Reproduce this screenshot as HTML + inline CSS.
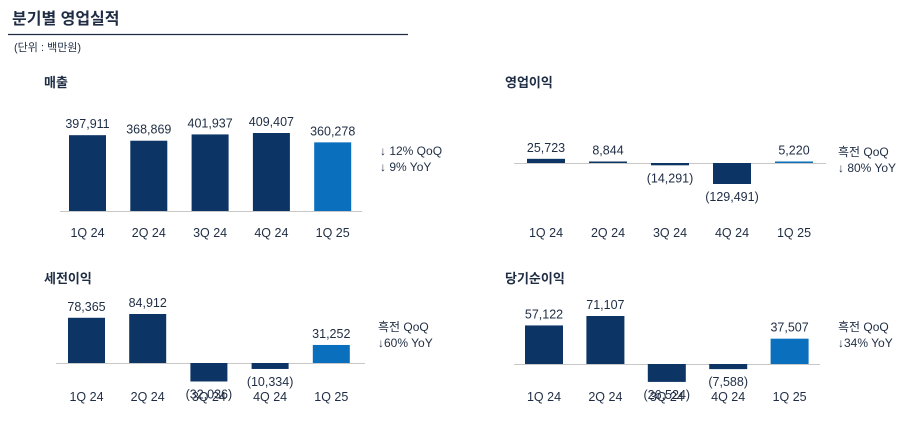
<!DOCTYPE html>
<html><head><meta charset="utf-8">
<style>
body{margin:0;width:913px;height:433px;background:#fff;overflow:hidden;font-family:"Liberation Sans","Noto Sans CJK KR",sans-serif;}
svg{display:block}
text{font-family:"Liberation Sans","Noto Sans CJK KR",sans-serif;fill:#1f2d44}
</style></head>
<body>
<svg id="c" width="913" height="433">
<text x="12" y="24" font-size="16" font-weight="bold">분기별 영업실적</text>
<line x1="8" y1="34.5" x2="408" y2="34.5" stroke="#1f2d44" stroke-width="1.2"/>
<text x="14" y="51" font-size="11" fill="#444">(단위 : 백만원)</text>
</svg>
<script>
const categories=["1Q 24","2Q 24","3Q 24","4Q 24","1Q 25"];
const revenue=[397911,368869,401937,409407,360278];
const operatingProfit=[25723,8844,-14291,-129491,5220];
const pretaxProfit=[78365,84912,-32036,-10334,31252];
const netProfit=[57122,71107,-26524,-7588,37507];
const notes=[["↓ 12% QoQ","↓ 9% YoY"],["흑전 QoQ","↓ 80% YoY"],["흑전 QoQ","↓60% YoY"],["흑전 QoQ","↓34% YoY"]];
const titles=["매출","영업이익","세전이익","당기순이익"];
const svg=document.getElementById('c');
const NS='http://www.w3.org/2000/svg';
function mk(tag,attrs,txt){const e=document.createElementNS(NS,tag);for(const k in attrs)e.setAttribute(k,attrs[k]);if(txt!==undefined)e.textContent=txt;svg.appendChild(e);return e;}
function fmt(v){const s=Math.abs(v).toLocaleString('en-US');return v<0?'('+s+')':s;}
const panels=[
 {data:revenue,x0:69,step:61.3,bw:37,base:211,scale:78/409407,lineX:[60,362],titleX:44,titleY:87,catY:237,noteX:380,noteY:155,showLine:true},
 {data:operatingProfit,x0:527,step:62,bw:38,base:163,scale:21/129491,lineX:[514,826],titleX:505,titleY:87,catY:237,noteX:838,noteY:156,showLine:true},
 {data:pretaxProfit,x0:68,step:61.2,bw:37,base:363,scale:49/84912,lineX:[56,365],titleX:44,titleY:283,catY:401,noteX:378,noteY:331,showLine:true},
 {data:netProfit,x0:525,step:61.4,bw:38,base:364,scale:48/71107,lineX:[514,820],titleX:505,titleY:283,catY:401,noteX:838,noteY:331,showLine:true}
];
panels.forEach((p,pi)=>{
 const t=mk('text',{x:p.titleX,y:p.titleY,'font-size':13,'font-weight':'bold'},titles[pi]);
 
 
 const ln=mk('line',{x1:p.lineX[0],x2:p.lineX[1],y1:p.base+0.5,y2:p.base+0.5,stroke:'#c8c8c8','stroke-width':1});
 
 
 p.data.forEach((v,i)=>{
  const x=p.x0+i*p.step, h=Math.max(Math.abs(v)*p.scale,1.5);
  const y=v>=0?p.base-h:p.base;
  const b=mk('rect',{x:x,y:y,width:p.bw,height:h,fill:i===4?'#0a6fbd':'#0c3464'});
  
  
  const cx=x+p.bw/2;
  const ly=v>=0?y-7:p.base+h+17;
  const l=mk('text',{x:cx,y:ly,'font-size':12.5,'text-anchor':'middle'},fmt(v));
  
  
  const c=mk('text',{x:cx,y:p.catY,'font-size':12.5,'text-anchor':'middle'},categories[i]);
  
  
 });
 notes[pi].forEach((n,j)=>{
  const e=mk('text',{x:p.noteX,y:p.noteY+j*16,'font-size':12},n);
  
  
 });
});
</script>
</body></html>
